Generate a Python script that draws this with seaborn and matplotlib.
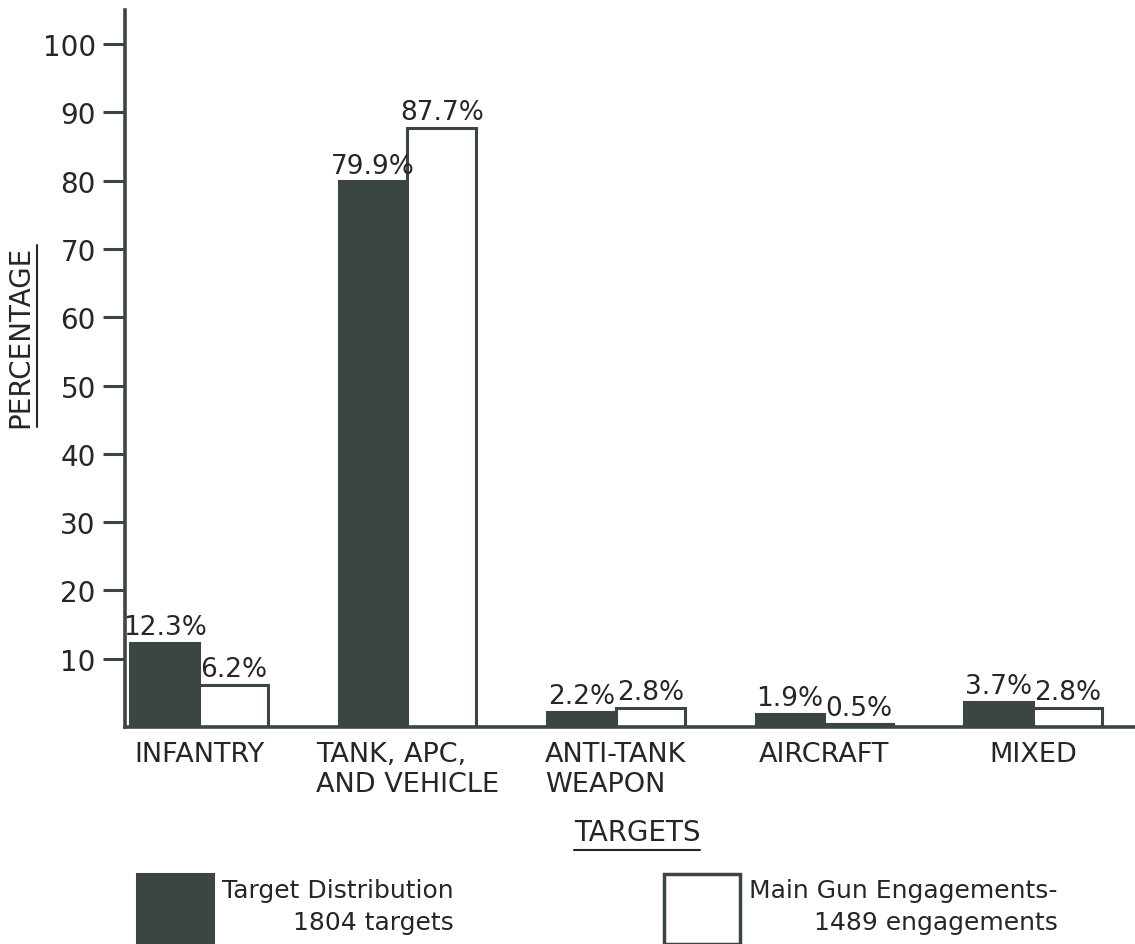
import pandas as pd
import matplotlib.pyplot as plt
import matplotlib.patches as mpatches
from matplotlib.lines import Line2D
import seaborn as sns

targets = ['INFANTRY', 'TANK, APC,\nAND VEHICLE', 'ANTI-TANK\nWEAPON', 'AIRCRAFT', 'MIXED']
target_dist = [12.3, 79.9, 2.2, 1.9, 3.7]
main_gun = [6.2, 87.7, 2.8, 0.5, 2.8]
series = ['Target Distribution\n1804 targets', 'Main Gun Engagements-\n1489 engagements']
yticks = [10, 20, 30, 40, 50, 60, 70, 80, 90, 100]

dark = '#3b4642'
ink = '#262626'

df = pd.DataFrame({
    'target': targets * 2,
    'pct': target_dist + main_gun,
    'series': [series[0]] * len(targets) + [series[1]] * len(targets),
})

sns.set_style('white')
plt.rcParams['font.family'] = ['DejaVu Sans']

fig = plt.figure(figsize=(11.35, 9.45), dpi=100)
ax = fig.add_axes([125 / 1135, 1 - 728 / 945, 1010 / 1135, 717 / 945])

sns.barplot(data=df, x='target', y='pct', hue='series',
            palette={series[0]: dark, series[1]: 'white'},
            edgecolor=dark, linewidth=2.2, width=0.66, saturation=1,
            legend=False, ax=ax)

for cont, vals in zip(ax.containers, [target_dist, main_gun]):
    ax.bar_label(cont, labels=[f'{v}%' for v in vals], padding=2,
                 fontsize=19, color=ink)

ax.set_xlim(-0.355, 4.49)
ax.set_ylim(0, 105)
ax.set_yticks(yticks)
ax.set_yticklabels([str(t) for t in yticks], fontsize=20, color=ink)
ax.tick_params(axis='y', length=16, width=2.2, color=dark, pad=5, left=True)
ax.tick_params(axis='x', length=0, pad=10)
for lab in ax.get_xticklabels():
    lab.set_fontsize(19.5)
    lab.set_color(ink)
    lab.set_multialignment('left')
ax.set_xlabel('')
ax.set_ylabel('')

sns.despine(ax=ax, top=True, right=True)
for side in ['left', 'bottom']:
    ax.spines[side].set_linewidth(2.6)
    ax.spines[side].set_color(dark)

ylab = fig.text(20 / 1135, 1 - 337 / 945, 'PERCENTAGE', rotation=90,
                ha='center', va='center', fontsize=20, color=ink)
xlab = fig.text(637 / 1135, 1 - 833 / 945, 'TARGETS',
                ha='center', va='center', fontsize=20, color=ink)

handles = [mpatches.Patch(facecolor=dark, edgecolor=dark, linewidth=2.2),
           mpatches.Patch(facecolor='white', edgecolor=dark, linewidth=2.5)]
leg = fig.legend(handles, series, loc='lower left', bbox_to_anchor=(137 / 1135, 0.0),
                 ncol=2, frameon=False, fontsize=18, handlelength=3.05, handleheight=3.95,
                 handletextpad=0.36, columnspacing=8.4, borderpad=0, borderaxespad=0)
for t in leg.get_texts():
    t.set_multialignment('right')
    t.set_linespacing(1.45)
    t.set_color(ink)

# underline the axis titles
fig.canvas.draw()
W, H = fig.bbox.width, fig.bbox.height
bb = ylab.get_window_extent()
fig.add_artist(Line2D([(bb.x1 + 3) / W] * 2, [bb.y0 / H, bb.y1 / H], color=ink, lw=1.5))
bb = xlab.get_window_extent()
fig.add_artist(Line2D([bb.x0 / W, bb.x1 / W], [(bb.y0 - 4) / H] * 2, color=ink, lw=1.5))

fig.savefig('out.png', dpi=100, facecolor='white')
